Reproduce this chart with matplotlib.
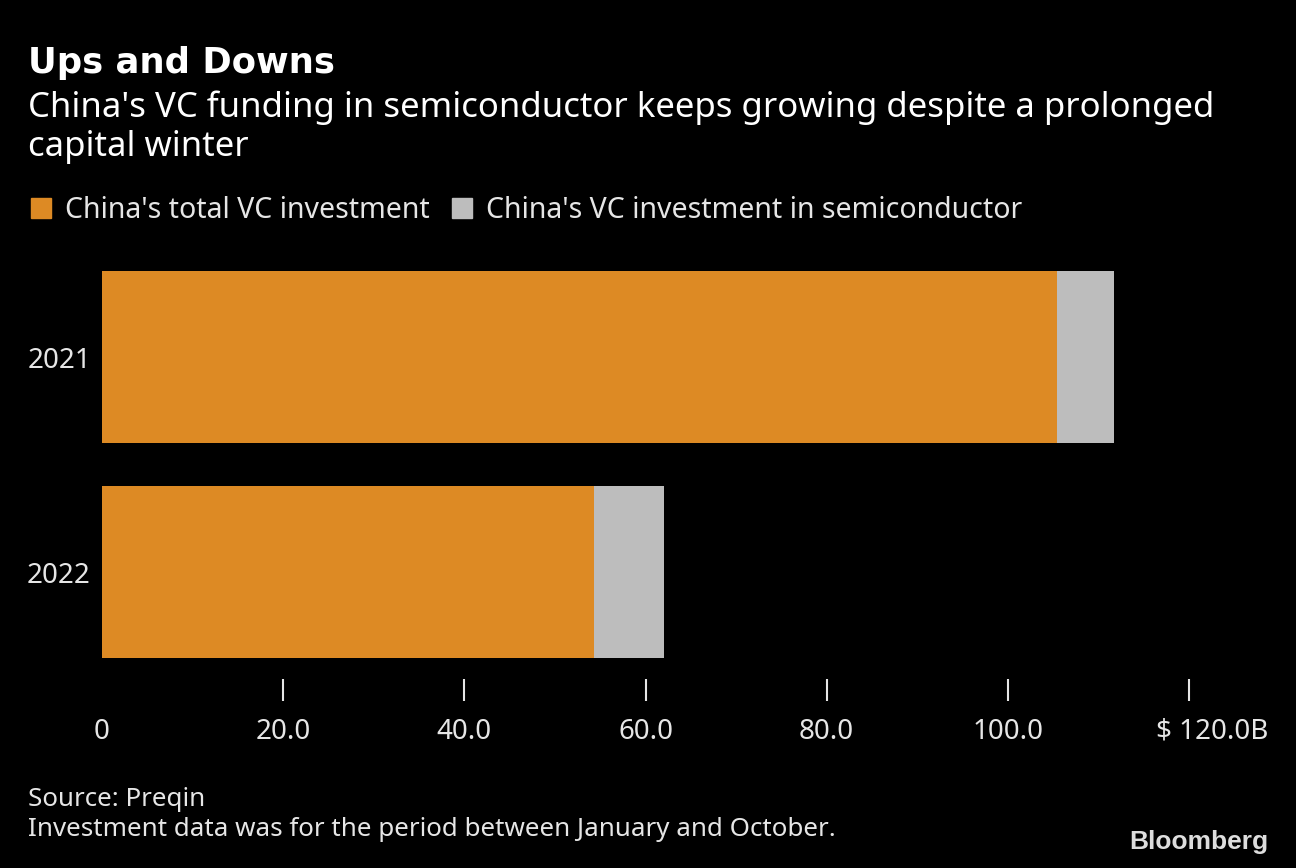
import matplotlib
matplotlib.use("Agg")
import matplotlib.pyplot as plt
from matplotlib.patches import Patch
from matplotlib.transforms import ScaledTranslation

years = ["2021", "2022"]
total_vc = [105.4, 54.3]
semi_vc = [6.3, 7.7]
xticks = [0, 20, 40, 60, 80, 100, 120]
xtick_labels = ["0", "20.0", "40.0", "60.0", "80.0", "100.0", "$ 120.0B"]

ORANGE = "#DD8A24"
GRAY = "#BDBDBD"
TXT = "#E6E6E6"
FONT = ["Noto Sans", "DejaVu Sans"]
plt.rcParams["font.family"] = FONT

fig = plt.figure(figsize=(12.96, 8.68), dpi=100, facecolor="black")
ax = fig.add_axes([102/1296, 1-701/868, (1189-102)/1296, 451/868])
ax.set_facecolor("black")

ypos = list(range(len(years)))
ax.barh(ypos, total_vc, height=0.8, color=ORANGE, label="China's total VC investment")
ax.barh(ypos, semi_vc, left=total_vc, height=0.8, color=GRAY,
        label="China's VC investment in semiconductor")

ax.set_xlim(0, 120)
ax.set_ylim(1.6, -0.5)
ax.set_yticks(ypos)
ax.set_yticklabels(years)
ax.set_xticks(xticks)
ax.set_xticklabels(xtick_labels)
for s in ax.spines.values():
    s.set_visible(False)
ax.tick_params(axis="y", length=0, pad=8, labelsize=20, labelcolor=TXT)
ax.tick_params(axis="x", direction="in", length=16, width=1.5, color=TXT,
               pad=12, labelsize=20, labelcolor=TXT)
ax.xaxis.get_major_ticks()[0].tick1line.set_visible(False)
last = ax.get_xticklabels()[-1]
last.set_transform(last.get_transform() + ScaledTranslation(23/100, 0, fig.dpi_scale_trans))

fig.text(28/1296, 1-63/868, "Ups and Downs", color="white", fontsize=25.5,
         fontweight="bold", va="center", ha="left", family=["DejaVu Sans"])
fig.text(28/1296, 1-127/868,
         "China's VC funding in semiconductor keeps growing despite a prolonged\ncapital winter",
         color="white", fontsize=25, va="center", ha="left", linespacing=1.2)

handles = [Patch(color=ORANGE), Patch(color=GRAY)]
fig.legend(handles, ["China's total VC investment", "China's VC investment in semiconductor"],
           loc="center left", bbox_to_anchor=(5/1296, 1-210/868), ncol=2, frameon=False,
           fontsize=20.5, labelcolor=TXT, handlelength=0.7, handleheight=0.7,
           handletextpad=0.5, columnspacing=0.8)

fig.text(28/1296, 1-800/868, "Source: Preqin", color=TXT, fontsize=18.7, va="center")
fig.text(28/1296, 1-830/868, "Investment data was for the period between January and October.",
         color=TXT, fontsize=18.7, va="center")
fig.text(1268/1296, 1-842/868, "Bloomberg", color="#DDDDDD", fontsize=19,
         fontweight="bold", ha="right", va="center", family=["Liberation Sans", "DejaVu Sans"])

fig.savefig("out.png", dpi=100, facecolor="black")
